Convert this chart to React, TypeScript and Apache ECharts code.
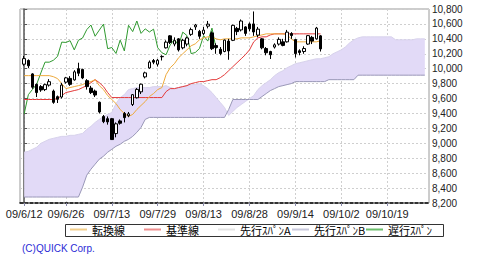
import React, { useEffect, useRef } from "react";
import * as echarts from "echarts";

// x positions are trading-day indices; labels shown at these indices
const tickIndex = [0, 10, 21, 32, 43, 54, 65, 76, 87];
const tickLabels = ["09/6/12", "09/6/26", "09/7/13", "09/7/29", "09/8/13", "09/8/28", "09/9/14", "09/10/2", "09/10/19"];

// candles (idx 0 = 09/6/12 ... idx 71 = 09/9/25)
const opens = [
  10060, 10110, 9930, 9790, 9760, 9720, 9780, 9700, 9625, 9620,
  9820, 9870, 9850, 10000, 9990, 9840, 9740, 9700, 9550, 9360,
  9330, 9330, 9130, 9300, 9400, 9370, 9520, 9610, 9690, 9890,
  10010, 10110, 10060, 10160, 10280, 10440, 10330, 10400, 10280, 10330,
  10460, 10560, 10500, 10470, 10570, 10480, 10310, 10260, 10230, 10370,
  10380, 10540, 10520, 10560, 10600, 10600, 10450, 10400, 10270, 10230,
  10290, 10330, 10360, 10360, 10470, 10390, 10240, 10230, 10330, 10420,
  10400, 10440,
];
const closes = [
  10135, 10039, 9752, 9680, 9715, 9786, 9826, 9549, 9590, 9780,
  9877, 9790, 9958, 9939, 9876, 9760, 9680, 9647, 9420, 9291,
  9287, 9050, 9261, 9269, 9344, 9395, 9652, 9723, 9792, 9944,
  10088, 10087, 10113, 10165, 10356, 10352, 10375, 10252, 10381, 10412,
  10524, 10585, 10435, 10517, 10597, 10268, 10284, 10204, 10383, 10238,
  10581, 10497, 10639, 10473, 10534, 10492, 10530, 10280, 10214, 10187,
  10320, 10393, 10312, 10490, 10444, 10202, 10217, 10270, 10443, 10370,
  10544, 10265,
];
const lows = [
  10040, 10010, 9730, 9620, 9690, 9700, 9760, 9530, 9540, 9600,
  9800, 9770, 9840, 9900, 9860, 9720, 9660, 9620, 9400, 9270,
  9250, 9050, 9080, 9250, 9280, 9350, 9500, 9600, 9660, 9870,
  10000, 10060, 10030, 10110, 10270, 10330, 10300, 10230, 10260, 10300,
  10440, 10520, 10400, 10450, 10540, 10250, 10200, 10180, 10220, 10120,
  10370, 10450, 10500, 10440, 10500, 10440, 10420, 10260, 10180, 10130,
  10270, 10310, 10300, 10350, 10400, 10150, 10180, 10200, 10320, 10330,
  10390, 10230,
];
const highs = [
  10170, 10125, 9940, 9800, 9780, 9800, 9860, 9720, 9640, 9810,
  9890, 9900, 9980, 10080, 10000, 9860, 9770, 9720, 9560, 9380,
  9360, 9340, 9280, 9320, 9420, 9420, 9660, 9740, 9800, 9960,
  10110, 10130, 10130, 10180, 10380, 10450, 10420, 10410, 10400, 10430,
  10550, 10600, 10520, 10560, 10640, 10500, 10340, 10290, 10390, 10400,
  10590, 10560, 10660, 10570, 10620, 10767, 10560, 10410, 10290, 10240,
  10340, 10420, 10400, 10520, 10490, 10400, 10260, 10300, 10450, 10440,
  10560, 10450,
];

// 転換線 (idx 0..71)
const tenkan = [
  9907, 9907, 9907, 9907, 9907, 9907, 9907, 9893, 9867, 9800,
  9733, 9747, 9760, 9773, 9787, 9813, 9827, 9853, 9773, 9720,
  9640, 9587, 9533, 9453, 9400, 9360, 9387, 9453, 9507, 9560,
  9627, 9667, 9720, 9747, 9920, 10013, 10067, 10147, 10200, 10253,
  10307, 10333, 10387, 10413, 10427, 10427, 10400, 10387, 10400, 10400,
  10400, 10400, 10413, 10413, 10413, 10427, 10440, 10453, 10467, 10467,
  10467, 10467, 10467, 10453, 10400, 10360, 10360, 10360, 10360, 10360,
  10360, 10373,
];
// 基準線 (idx 0..71)
const kijun = [
  9587, 9587, 9587, 9587, 9587, 9587, 9587, 9587, 9600, 9640,
  9680, 9693, 9707, 9720, 9747, 9773, 9813, 9853, 9813, 9760,
  9680, 9613, 9613, 9613, 9613, 9613, 9613, 9613, 9613, 9613,
  9613, 9613, 9613, 9613, 9693, 9733, 9733, 9747, 9760, 9773,
  9800, 9813, 9827, 9827, 9840, 9853, 9853, 9880, 9920, 9973,
  10027, 10080, 10133, 10187, 10253, 10360, 10413, 10427, 10427, 10453,
  10467, 10467, 10467, 10467, 10467, 10467, 10467, 10467, 10467, 10467,
  10467, 10467,
];
// 先行スパンA (idx 0..96)
const spanA = [
  8880, 8893, 8920, 8947, 9000, 9027, 9053, 9067, 9080, 9093,
  9093, 9107, 9107, 9120, 9133, 9187, 9227, 9280, 9320, 9360,
  9387, 9413, 9533, 9613, 9653, 9720, 9733, 9747, 9747, 9747,
  9747, 9760, 9760, 9760, 9773, 9747, 9733, 9747, 9760, 9773,
  9787, 9787, 9800, 9773, 9733, 9680, 9613, 9547, 9480, 9373,
  9427, 9480, 9520, 9560, 9600, 9640, 9720, 9773, 9813, 9853,
  9907, 9947, 9973, 10013, 10040, 10067, 10080, 10093, 10107, 10120,
  10133, 10133, 10147, 10160, 10200, 10227, 10253, 10293, 10347, 10387,
  10413, 10427, 10427, 10427, 10427, 10427, 10427, 10427, 10427, 10387,
  10387, 10387, 10387, 10387, 10400, 10400, 10400,
];
// 先行スパンB (idx 0..96)
const spanB = [
  8280, 8280, 8280, 8280, 8280, 8280, 8280, 8280, 8280, 8280,
  8280, 8280, 8280, 8280, 8413, 8573, 8653, 8720, 8787, 8827,
  8880, 8920, 8960, 8987, 9027, 9053, 9093, 9147, 9213, 9320,
  9347, 9347, 9347, 9347, 9347, 9347, 9347, 9347, 9347, 9347,
  9347, 9347, 9347, 9347, 9347, 9347, 9347, 9347, 9347, 9453,
  9587, 9587, 9587, 9587, 9587, 9587, 9587, 9627, 9667, 9707,
  9733, 9760, 9773, 9787, 9800, 9827, 9827, 9827, 9827, 9827,
  9827, 9827, 9827, 9853, 9853, 9853, 9853, 9853, 9853, 9853,
  9913, 9913, 9913, 9913, 9913, 9913, 9913, 9913, 9913, 9913,
  9913, 9913, 9913, 9913, 9913, 9913, 9913,
];
// 遅行スパン (idx 0..46)
const chikou = [
  9395, 9652, 9723, 9792, 9944, 10088, 10087, 10113, 10165, 10356,
  10352, 10375, 10252, 10381, 10412, 10524, 10585, 10435, 10517, 10597,
  10268, 10284, 10204, 10383, 10238, 10581, 10497, 10639, 10473, 10534,
  10492, 10530, 10280, 10214, 10187, 10320, 10393, 10312, 10490, 10444,
  10202, 10217, 10270, 10443, 10370, 10544, 10265,
];

const seriesNames = ["転換線", "基準線", "先行ｽﾊﾟﾝA", "先行ｽﾊﾟﾝB", "遅行ｽﾊﾟﾝ"];
const legendSwatch = ["#f3cf8c", "#ef8f8f", "#e4e4e4", "#c9c9dc", "#6cbf6c"];

const pts = (arr: number[]) => arr.map((v, i) => [i, v]);
const fmt = (v: number) => {
  const s = String(Math.round(v));
  return s.length > 3 ? s.slice(0, s.length - 3) + "," + s.slice(s.length - 3) : s;
};

export default function App() {
  const ref = useRef<HTMLDivElement>(null);
  useEffect(() => {
    if (!ref.current) return;
    const chart = echarts.init(ref.current, undefined, { renderer: "svg" });
    const candles = opens.map((o, i) => [i, o, closes[i], lows[i], highs[i]]);
    const font = "'Liberation Sans', Arial, sans-serif";
    chart.setOption({
      animation: false,
      backgroundColor: "#fff",
      title: {
        text: "(C)QUICK Corp.",
        left: 22,
        top: 243,
        padding: 0,
        textStyle: { fontSize: 10, fontWeight: "normal", color: "#2b2bd6", fontFamily: font },
      },
      legend: seriesNames.map((name, k) => ({
        data: [{ name, itemStyle: { color: legendSwatch[k], borderWidth: 0 } }],
        left: 70 + 74 * k,
        top: 224,
        padding: 0,
        icon: "rect",
        itemWidth: 17,
        itemHeight: 2,
        itemGap: 0,
        selectedMode: false,
        textStyle: { fontSize: 11, color: "#000", fontFamily: "'Noto Sans CJK JP', sans-serif" },
      })),
      graphic: [
        {
          type: "rect",
          shape: { x: 65.5, y: 224.5, width: 378, height: 12 },
          style: { fill: "none", stroke: "#333", lineWidth: 1 },
          silent: true,
        },
      ],
      grid: {
        left: 20,
        top: 9,
        width: 409,
        height: 194,
        show: true,
        borderColor: "#9a9a9a",
        borderWidth: 1,
      },
      xAxis: {
        type: "value",
        min: -1,
        max: 97,
        axisLine: { show: true, lineStyle: { color: "#000", width: 1.5, type: [3, 2] } },
        axisTick: { show: true, customValues: tickIndex, length: 3, lineStyle: { color: "#8a8aaa" } },
        axisLabel: {
          customValues: tickIndex,
          formatter: (v: number) => tickLabels[tickIndex.indexOf(v)] ?? "",
          fontSize: 11,
          margin: 5,
          color: "#222",
          fontFamily: font,
        },
        splitLine: { show: true, lineStyle: { color: "#cfcfcf", type: [2, 2] } },
      },
      yAxis: {
        type: "value",
        position: "right",
        min: 8200,
        max: 10800,
        interval: 200,
        axisLine: { show: true, lineStyle: { color: "#555", width: 1.5 } },
        axisTick: { show: true, length: 3, lineStyle: { color: "#555" } },
        axisLabel: { margin: 3, fontSize: 10, color: "#222", fontFamily: font, formatter: (v: number) => fmt(v) },
        splitLine: { show: true, lineStyle: { color: "#cfcfcf", type: [2, 2] } },
      },
      series: [
        {
          type: "custom",
          name: "cloud",
          silent: true,
          z: 1,
          data: [[0, spanA[0]]],
          renderItem: (_params: any, api: any) => {
            const upper = spanA.map((v, i) => api.coord([i, v]));
            const lower = spanB.map((v, i) => api.coord([i, v])).reverse();
            return {
              type: "polygon",
              shape: { points: upper.concat(lower) },
              style: { fill: "#e2daf7", stroke: "none" },
            };
          },
        },
        {
          type: "line",
          name: seriesNames[2],
          data: pts(spanA),
          symbol: "none",
          lineStyle: { color: "#d8d3ec", width: 1 },
          itemStyle: { color: "#d8d3ec" },
          z: 2,
        },
        {
          type: "line",
          name: seriesNames[3],
          data: pts(spanB),
          symbol: "none",
          lineStyle: { color: "#9a98b8", width: 1 },
          itemStyle: { color: "#9a98b8" },
          z: 2,
        },
        {
          type: "line",
          name: seriesNames[4],
          data: pts(chikou),
          symbol: "none",
          lineStyle: { color: "#2f9a2f", width: 1 },
          itemStyle: { color: "#2f9a2f" },
          z: 3,
        },
        {
          type: "line",
          name: seriesNames[1],
          data: pts(kijun),
          symbol: "none",
          lineStyle: { color: "#e43a3a", width: 1 },
          itemStyle: { color: "#e43a3a" },
          z: 3,
        },
        {
          type: "line",
          name: seriesNames[0],
          data: pts(tenkan),
          symbol: "none",
          lineStyle: { color: "#eeaa3c", width: 1 },
          itemStyle: { color: "#eeaa3c" },
          z: 3,
        },
        {
          type: "candlestick",
          name: "candle",
          data: candles,
          barWidth: 3,
          itemStyle: {
            color: "#fff",
            color0: "#000",
            borderColor: "#000",
            borderColor0: "#000",
            borderWidth: 1,
          },
          z: 4,
        },
      ],
    });
    return () => chart.dispose();
  }, []);
  return (
    <div
      ref={ref}
      style={{ position: "fixed", left: 0, top: 0, width: 480, height: 261, background: "#fff" }}
    />
  );
}
